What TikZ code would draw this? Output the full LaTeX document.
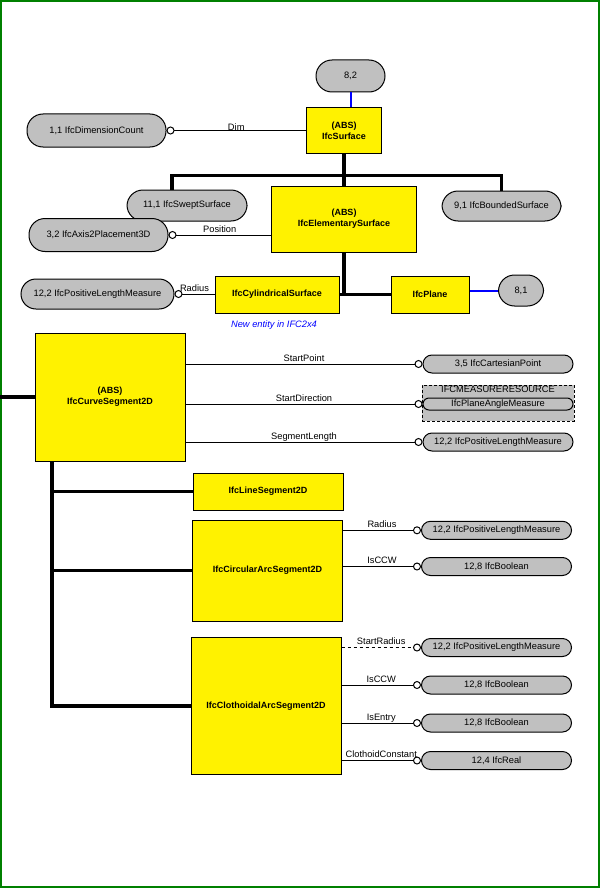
\documentclass[tikz,border=0pt]{standalone}
\usepackage{fontspec}
\setmainfont{Liberation Sans}
\usepackage{tikz}
\usetikzlibrary{arrows.meta}
\definecolor{ovalgray}{RGB}{192,192,192}
\definecolor{frameg}{RGB}{0,128,0}

\begin{document}
\begin{tikzpicture}[x=1pt,y=-1pt,line width=1pt,
        every node/.style={font=\fontsize{9.3}{11}\selectfont},
        entity/.style={draw, fill=yellow, align=center, inner sep=1pt,
                font=\fontsize{9}{11}\selectfont\bfseries},
        attr/.style={draw, fill=ovalgray, minimum width=150pt, minimum height=18pt,
                rounded corners=9pt, inner sep=1pt},
        bigattr/.style={attr, minimum height=32pt, rounded corners=16pt},
        schema/.style={draw, dash pattern=on 3pt off 2pt, fill=ovalgray,
                minimum width=152pt, minimum height=36pt, inner sep=0pt},
        rel/.style={{Circle[length=8pt,width=8pt,fill=white]}-},
        relto/.style={-{Circle[length=8pt,width=8pt,fill=white]}},
        lbl/.style={anchor=base, yshift=3pt, inner sep=0pt},
        inherit/.style={line width=3.2pt},
        select/.style={draw=blue, line width=2pt}]
        \useasboundingbox (0,0) rectangle (600,888);
        \draw[frameg, line width=2pt] (1,1) rectangle (598.5,886.8);

        % IfcSurface and its subtypes
        \node[bigattr, minimum width=69pt] (sel82) at (350.5,76) {8,2};
        \node[entity, minimum width=75pt, minimum height=45pt] (surf) at (344,130.5) {(ABS)\\IfcSurface};
        \node[bigattr, minimum width=139pt, minimum height=33pt] (dimc) at (96.5,130.5) {1,1 IfcDimensionCount};
        \node[bigattr, minimum width=120pt, minimum height=31pt] (swept) at (187,205.5) {11,1 IfcSweptSurface};
        \node[bigattr, minimum width=119pt, minimum height=30pt] (bounded) at (501.5,206) {9,1 IfcBoundedSurface};
        \node[bigattr, minimum width=139pt, minimum height=33pt] (axis) at (98.5,235) {3,2 IfcAxis2Placement3D};
        \node[entity, minimum width=145pt, minimum height=66pt] (elem) at (344,219) {(ABS)\\IfcElementarySurface};
        \node[entity, minimum width=124pt, minimum height=37pt] (cyl) at (277,294.5) {IfcCylindricalSurface};
        \node[entity, minimum width=78pt, minimum height=37pt] (plane) at (430,294.5) {IfcPlane};
        \node[bigattr, minimum width=45pt, minimum height=31pt] (sel81) at (521,290.5) {8,1};
        \node[bigattr, minimum width=153pt, minimum height=30pt, rounded corners=15pt] (poslenA) at (97.5,294) {12,2 IfcPositiveLengthMeasure};
        \node[text=blue, font=\fontsize{9.3}{11}\selectfont\itshape] (note) at (274,325) {New entity in IFC2x4};

        \coordinate (busl) at (172,175.5);
        \coordinate (busr) at (501.5,175.5);
        \draw[select] (sel82.south) -- (sel82.south |- surf.north);
        \draw[rel] (dimc.east) -- node[lbl, yshift=-3pt] {Dim} (dimc.east -| surf.west);
        \draw[inherit] (surf.south) -- (elem.north);
        \draw[inherit] (swept.north -| busl) -- (busl) -- (busr) -- (bounded.north);
        \draw[rel] (axis.east) -- node[lbl] {Position} (axis.east -| elem.west);
        \draw[inherit] (elem.south) -- (elem.south |- cyl.east);
        \draw[inherit] (cyl.east) -- (plane.west);
        \draw[select] (plane.east |- sel81.west) -- (sel81.west);
        \draw[rel] (poslenA.east) -- node[lbl] {Radius} (poslenA.east -| cyl.west);

        % IfcCurveSegment2D and its subtypes
        \node[entity, minimum width=150pt, minimum height=128pt] (cseg) at (110,397) {(ABS)\\IfcCurveSegment2D};
        \node[attr] (cart) at (498,364) {3,5 IfcCartesianPoint};
        \node[schema] (mres) at (498,403) {};
        \node[attr, minimum height=12pt, rounded corners=6pt, inner sep=0pt] (angle) at (498,404) {IfcPlaneAngleMeasure};
        \node[anchor=north, inner sep=1.5pt] (mresname) at (mres.north) {IFCMEASURERESOURCE};
        \node[attr] (poslenB) at (498,442) {12,2 IfcPositiveLengthMeasure};
        \node[entity, minimum width=150pt, minimum height=37pt] (lineseg) at (268,491.5) {IfcLineSegment2D};
        \node[entity, minimum width=150pt, minimum height=101pt] (circ) at (267.5,570.5) {IfcCircularArcSegment2D};
        \node[attr] (poslenC) at (496.5,530.3) {12,2 IfcPositiveLengthMeasure};
        \node[attr] (boolA) at (496.5,566.5) {12,8 IfcBoolean};
        \node[entity, minimum width=150pt, minimum height=137pt] (cloth) at (266,706) {IfcClothoidalArcSegment2D};
        \node[attr] (poslenD) at (496.5,647.5) {12,2 IfcPositiveLengthMeasure};
        \node[attr] (boolB) at (496.5,685) {12,8 IfcBoolean};
        \node[attr] (boolC) at (496.5,723) {12,8 IfcBoolean};
        \node[attr] (real) at (496.5,760.5) {12,4 IfcReal};

        \coordinate (inh) at (0,397);
        \coordinate (trunk) at (52,706);
        \draw[inherit] (inh) -- (cseg.west);
        \draw[inherit] (cseg.south -| trunk) -- (trunk) -- (cloth.west);
        \draw[inherit] (trunk |- lineseg.west) -- (lineseg.west);
        \draw[inherit] (trunk |- circ.west) -- (circ.west);
        \draw[relto] (cseg.east |- cart.west) -- node[lbl] {StartPoint} (cart.west);
        \draw[relto] (cseg.east |- angle.west) -- node[lbl] {StartDirection} (angle.west);
        \draw[relto] (cseg.east |- poslenB.west) -- node[lbl] {SegmentLength} (poslenB.west);
        \draw[relto] (circ.east |- poslenC.west) -- node[lbl] {Radius} (poslenC.west);
        \draw[relto] (circ.east |- boolA.west) -- node[lbl] {IsCCW} (boolA.west);
        \draw[relto, dashed] (cloth.east |- poslenD.west) -- node[lbl] {StartRadius} (poslenD.west);
        \draw[relto] (cloth.east |- boolB.west) -- node[lbl] {IsCCW} (boolB.west);
        \draw[relto] (cloth.east |- boolC.west) -- node[lbl] {IsEntry} (boolC.west);
        \draw[relto] (cloth.east |- real.west) -- node[lbl] {ClothoidConstant} (real.west);
\end{tikzpicture}
\end{document}
